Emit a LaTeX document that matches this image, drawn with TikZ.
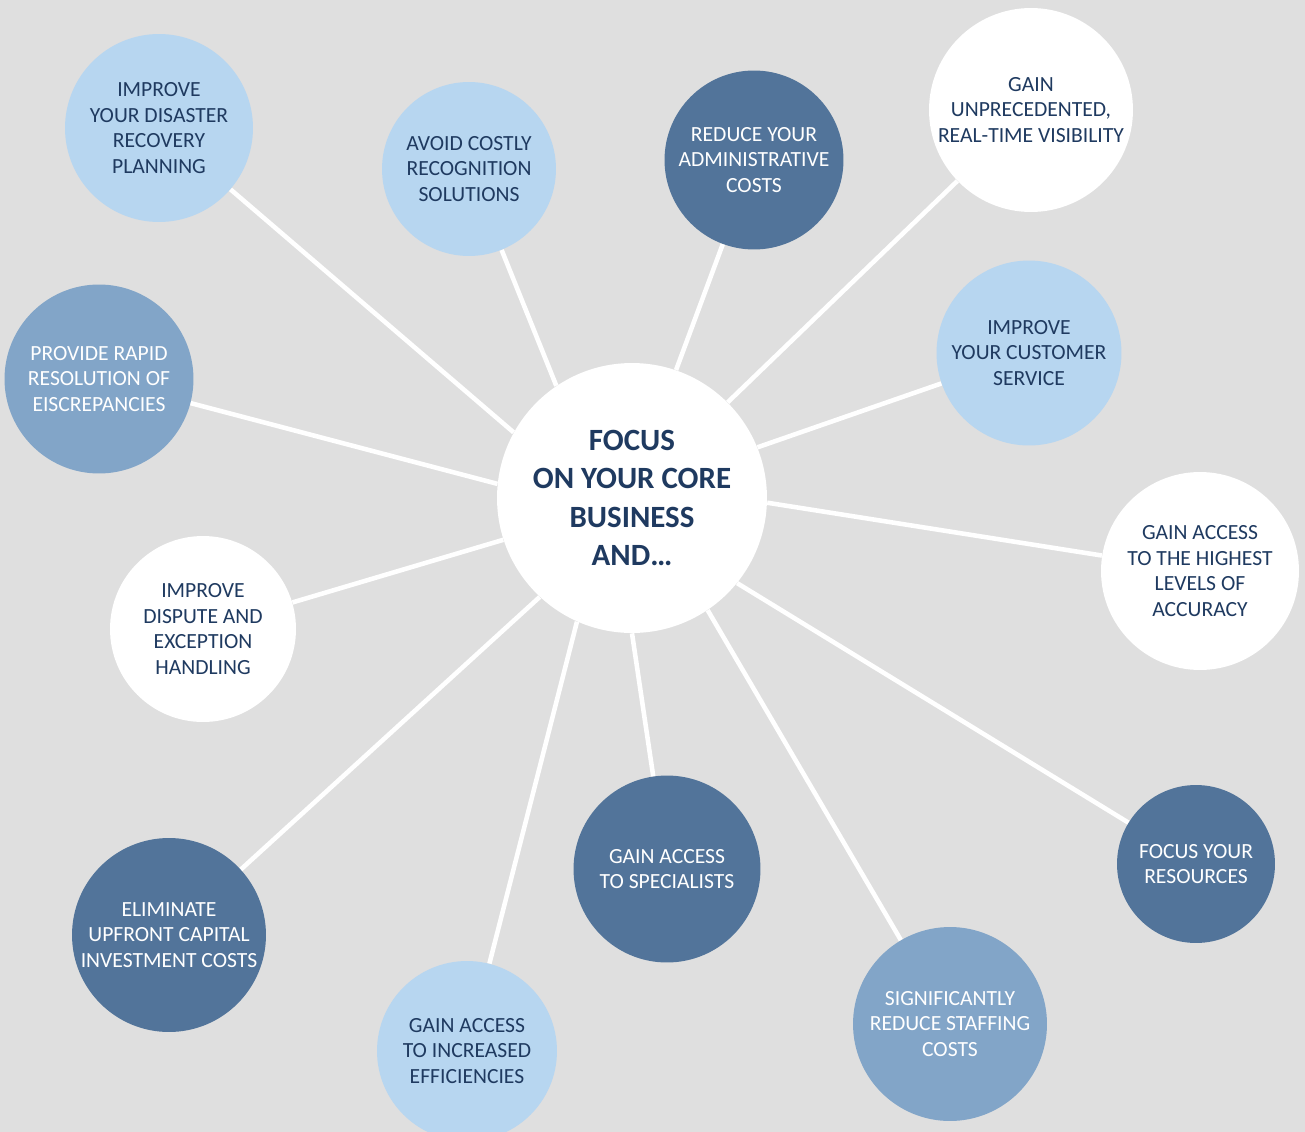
\documentclass[tikz,border=0pt]{standalone}
\usepackage{fontspec}
\setmainfont{Carlito}
\definecolor{backgray}{HTML}{DFDFDF}
\definecolor{paleblue}{HTML}{B7D6F0}
\definecolor{midblue}{HTML}{82A5C8}
\definecolor{deepblue}{HTML}{52749A}
\definecolor{navy}{HTML}{1F3A60}
\begin{document}
\begin{tikzpicture}[x=0.02cm,y=-0.02cm,
  bubble/.style={circle,inner sep=0pt,align=center,font=\fontsize{12.3}{14.6}\selectfont},
  pale/.style={bubble,fill=paleblue,text=navy},
  plain/.style={bubble,fill=white,text=navy},
  mid/.style={bubble,fill=midblue,text=white},
  deep/.style={bubble,fill=deepblue,text=white},
  hub/.style={circle,inner sep=0pt,align=center,fill=white,text=navy,font=\fontsize{17.6}{21.9}\selectfont\bfseries},
  spoke/.style={draw=white,line width=2.6pt}]
\clip (0,0) rectangle (1305,1132);
\fill[backgray] (0,0) rectangle (1305,1132);
\node[hub,minimum size=5.4cm] (hub) at (632,498) {FOCUS\\ON YOUR CORE\\BUSINESS\\AND…};
\node[pale,minimum size=3.76cm] (disaster) at (159,128) {IMPROVE\\YOUR DISASTER\\RECOVERY\\PLANNING};
\node[pale,minimum size=3.48cm] (costly) at (469,169) {AVOID COSTLY\\RECOGNITION\\SOLUTIONS};
\node[deep,minimum size=3.58cm] (admin) at (754,160) {REDUCE YOUR\\ADMINISTRATIVE\\COSTS};
\node[plain,minimum size=4.08cm] (visibility) at (1031,110) {GAIN\\UNPRECEDENTED,\\REAL-TIME VISIBILITY};
\node[pale,minimum size=3.70cm] (customer) at (1029,353) {IMPROVE\\YOUR CUSTOMER\\SERVICE};
\node[mid,minimum size=3.78cm] (rapid) at (99,379) {PROVIDE RAPID\\RESOLUTION OF\\EISCREPANCIES};
\node[plain,minimum size=3.96cm] (accuracy) at (1200,571) {GAIN ACCESS\\TO THE HIGHEST\\LEVELS OF\\ACCURACY};
\node[plain,minimum size=3.72cm] (dispute) at (203,629) {IMPROVE\\DISPUTE AND\\EXCEPTION\\HANDLING};
\node[deep,minimum size=3.88cm] (upfront) at (169,935) {ELIMINATE\\UPFRONT CAPITAL\\INVESTMENT COSTS};
\node[pale,minimum size=3.60cm] (efficiency) at (467,1051) {GAIN ACCESS\\TO INCREASED\\EFFICIENCIES};
\node[deep,minimum size=3.74cm] (specialist) at (667,869) {GAIN ACCESS\\TO SPECIALISTS};
\node[mid,minimum size=3.88cm] (staffing) at (950,1024) {SIGNIFICANTLY\\REDUCE STAFFING\\COSTS};
\node[deep,minimum size=3.16cm] (resources) at (1196,864) {FOCUS YOUR\\RESOURCES};
\draw[spoke] (hub.151) -- (disaster);
\draw[spoke] (hub.124) -- (costly);
\draw[spoke] (hub.71) -- (admin);
\draw[spoke] (hub.45.6) -- (visibility);
\draw[spoke] (hub.22) -- (customer);
\draw[spoke] (hub.174.5) -- (rapid);
\draw[spoke] (hub.-2) -- (accuracy);
\draw[spoke] (hub.-162.4) -- (dispute);
\draw[spoke] (hub.-133) -- (upfront);
\draw[spoke] (hub.-114) -- (efficiency);
\draw[spoke] (hub.-90) -- (specialist);
\draw[spoke] (hub.-56.8) -- (staffing);
\draw[spoke] (hub.-39.6) -- (resources);
\end{tikzpicture}
\end{document}
